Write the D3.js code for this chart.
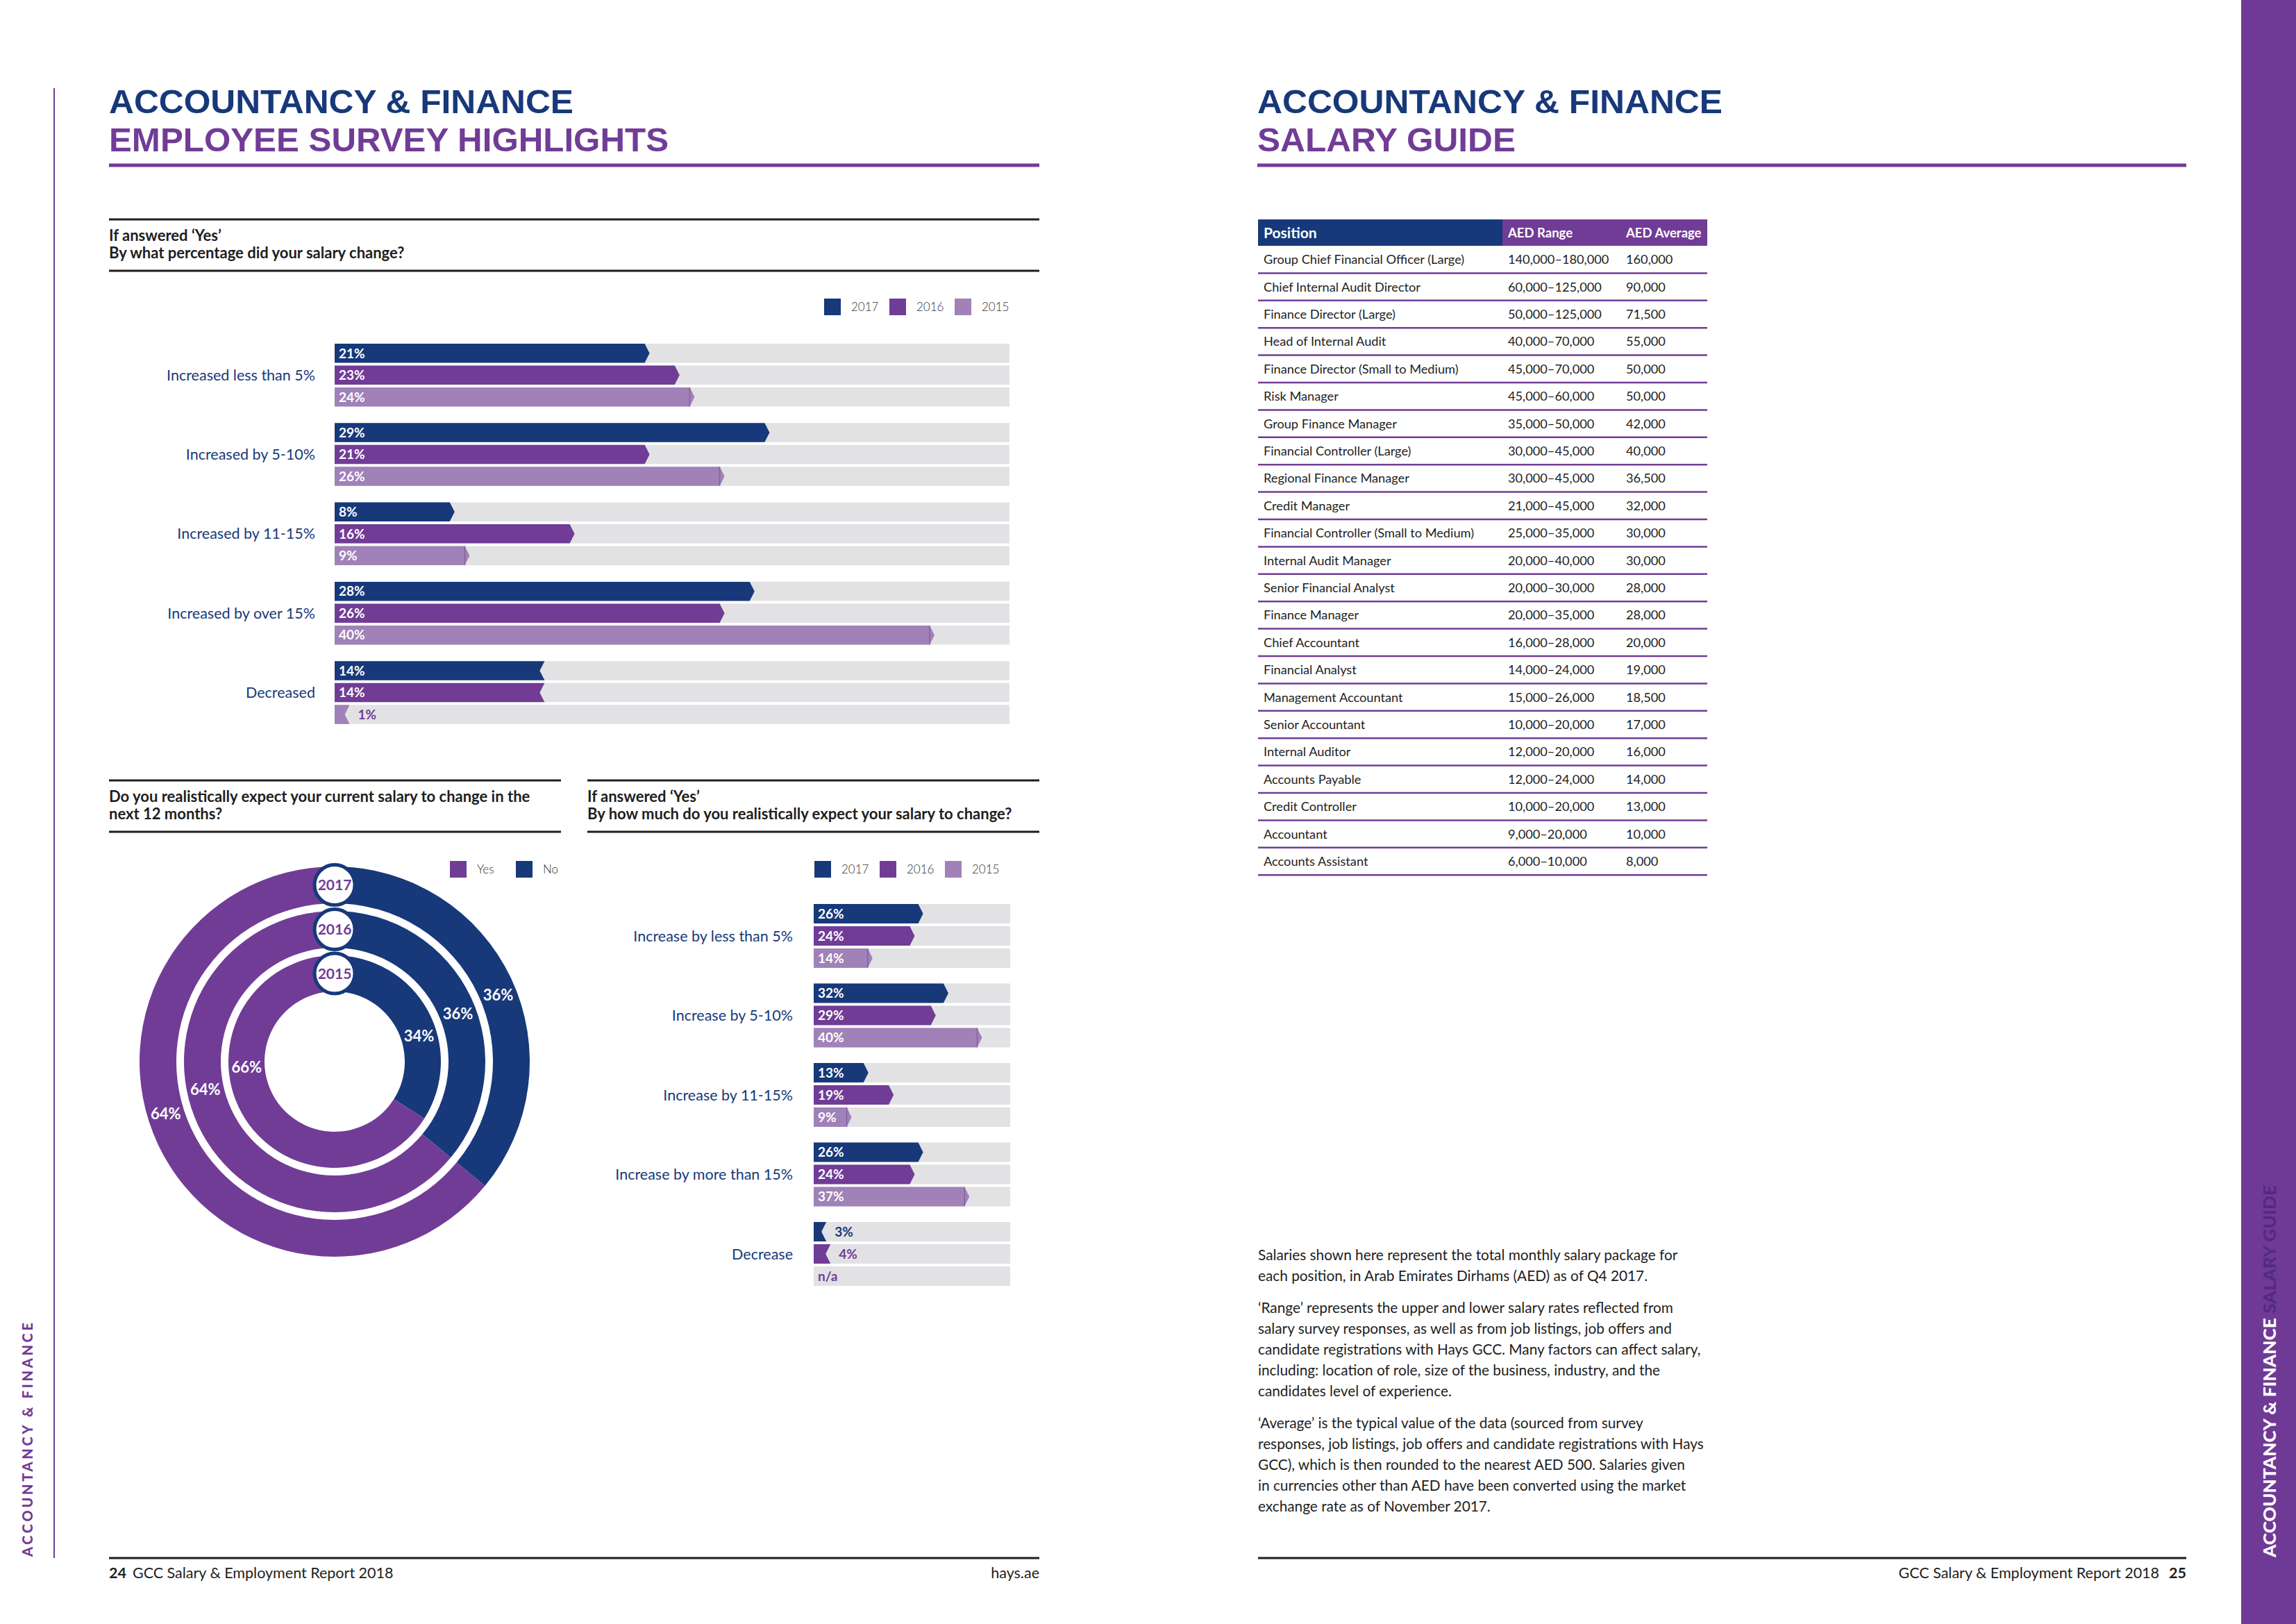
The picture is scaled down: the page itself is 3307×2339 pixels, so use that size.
<!DOCTYPE html>
<html>
<head>
<meta charset="utf-8">
<script src="https://cdn.jsdelivr.net/npm/d3@7"></script>
<style>
  body { margin: 0; background: #fff; }
  svg { display: block; font-family: Lato, 'Open Sans', sans-serif; }
</style>
</head>
<body>
<svg id="page" width="3307" height="2339"></svg>
<script>
// ---- data ----
const years = ['2017', '2016', '2015']

const changeCategories = ['Increased less than 5%', 'Increased by 5-10%', 'Increased by 11-15%', 'Increased by over 15%', 'Decreased']
const change2017 = [21, 29, 8, 28, 14]
const change2016 = [23, 21, 16, 26, 14]
const change2015 = [24, 26, 9, 40, 1]

const expectCategories = ['Increase by less than 5%', 'Increase by 5-10%', 'Increase by 11-15%', 'Increase by more than 15%', 'Decrease']
const expect2017 = [26, 32, 13, 26, 3]
const expect2016 = [24, 29, 19, 24, 4]
const expect2015 = [14, 40, 9, 37, null]

const ringYears = ['2017', '2016', '2015']
const ringYes = [64, 64, 66]
const ringNo = [36, 36, 34]

const positions = ['Group Chief Financial Officer (Large)', 'Chief Internal Audit Director', 'Finance Director (Large)', 'Head of Internal Audit', 'Finance Director (Small to Medium)', 'Risk Manager', 'Group Finance Manager', 'Financial Controller (Large)', 'Regional Finance Manager', 'Credit Manager', 'Financial Controller (Small to Medium)', 'Internal Audit Manager', 'Senior Financial Analyst', 'Finance Manager', 'Chief Accountant', 'Financial Analyst', 'Management Accountant', 'Senior Accountant', 'Internal Auditor', 'Accounts Payable', 'Credit Controller', 'Accountant', 'Accounts Assistant']
const aedRange = ['140,000–180,000', '60,000–125,000', '50,000–125,000', '40,000–70,000', '45,000–70,000', '45,000–60,000', '35,000–50,000', '30,000–45,000', '30,000–45,000', '21,000–45,000', '25,000–35,000', '20,000–40,000', '20,000–30,000', '20,000–35,000', '16,000–28,000', '14,000–24,000', '15,000–26,000', '10,000–20,000', '12,000–20,000', '12,000–24,000', '10,000–20,000', '9,000–20,000', '6,000–10,000']
const aedAverage = ['160,000', '90,000', '71,500', '55,000', '50,000', '50,000', '42,000', '40,000', '36,500', '32,000', '30,000', '30,000', '28,000', '28,000', '20,000', '19,000', '18,500', '17,000', '16,000', '14,000', '13,000', '10,000', '8,000']

// ---- style ----
const navy = '#17397a'
const purple = '#713c96'
const lilac = '#a081b8'
const trackGrey = '#e2e2e4'
const ink = '#1e1e1e'
const yearColors = { 2017: navy, 2016: purple, 2015: lilac }

const svg = d3.select('#page')
svg.append('rect').attr('width', 3307).attr('height', 2339).attr('fill', '#fff')

function rule (x1, x2, y, color, w) {
  svg.append('line').attr('x1', x1).attr('x2', x2).attr('y1', y).attr('y2', y)
    .attr('stroke', color).attr('stroke-width', w)
}

// two-line page heading
function heading (x, line1, w1, line2, w2) {
  const t = svg.append('text').attr('font-family', '"Liberation Sans", Arial, sans-serif')
    .attr('font-size', 48.5).attr('font-weight', 700)
  t.append('tspan').attr('x', x).attr('y', 163).attr('fill', navy)
    .attr('textLength', w1).attr('lengthAdjust', 'spacingAndGlyphs').text(line1)
  t.append('tspan').attr('x', x).attr('y', 218).attr('fill', purple)
    .attr('textLength', w2).attr('lengthAdjust', 'spacingAndGlyphs').text(line2)
}

function questionBlock (x, x2, top, lines) {
  rule(x, x2, top, ink, 3)
  const t = svg.append('text').attr('font-size', 22).attr('font-weight', 700).attr('fill', ink)
  lines.forEach((l, i) => {
    t.append('tspan').attr('x', x).attr('y', top + 31 + i * 25).text(l)
  })
  rule(x, x2, top + 74, ink, 3)
}

function legend (x, y, keys, colors, pitch) {
  const g = svg.append('g').attr('transform', `translate(${x},${y})`)
  const item = g.selectAll('g').data(keys).join('g').attr('transform', (d, i) => `translate(${i * pitch},0)`)
  item.append('rect').attr('width', 24).attr('height', 24).attr('fill', d => colors[d])
  item.append('text').attr('x', 39).attr('y', 12).attr('dy', '0.35em').attr('font-size', 17)
    .attr('font-weight', 300).attr('fill', '#333').text(d => d)
}

// ---- page frame ----
svg.append('line').attr('x1', 78).attr('x2', 78).attr('y1', 127).attr('y2', 2244)
  .attr('stroke', purple).attr('stroke-width', 2)
svg.append('text').attr('transform', 'translate(47,2242) rotate(-90)').attr('font-size', 20)
  .attr('font-weight', 900).attr('fill', purple).attr('textLength', 337).text('ACCOUNTANCY & FINANCE')

svg.append('rect').attr('x', 3228).attr('y', 0).attr('width', 79).attr('height', 2339).attr('fill', '#6f3a96')
const side = svg.append('text').attr('transform', 'translate(3278,2243) rotate(-90)').attr('font-size', 24)
  .attr('font-weight', 900).attr('textLength', 536).attr('lengthAdjust', 'spacingAndGlyphs')
side.append('tspan').attr('fill', '#fff').text('ACCOUNTANCY & FINANCE ')
side.append('tspan').attr('fill', '#55297f').text('SALARY GUIDE')

heading(157, 'ACCOUNTANCY & FINANCE', 669, 'EMPLOYEE SURVEY HIGHLIGHTS', 806)
rule(157, 1497, 238, purple, 5)
heading(1811, 'ACCOUNTANCY & FINANCE', 670, 'SALARY GUIDE', 372)
rule(1811, 3149, 238, purple, 5)

// footers
rule(157, 1497, 2244, ink, 3)
rule(1812, 3149, 2244, ink, 3)
const fl = svg.append('text').attr('x', 157).attr('y', 2273).attr('font-size', 21.5).attr('fill', ink)
fl.append('tspan').attr('font-weight', 700).text('24')
fl.append('tspan').attr('dx', 9).text('GCC Salary & Employment Report 2018')
svg.append('text').attr('x', 1497).attr('y', 2273).attr('font-size', 21.5).attr('fill', ink)
  .attr('text-anchor', 'end').text('hays.ae')
const fr = svg.append('text').attr('x', 3149).attr('y', 2273).attr('font-size', 21.5).attr('fill', ink)
  .attr('text-anchor', 'end')
fr.append('tspan').text('GCC Salary & Employment Report 2018')
fr.append('tspan').attr('dx', 14).attr('font-weight', 700).text('25')

// ---- bar charts ----
function barChart (opt) {
  const g = svg.append('g')
  const x = d3.scaleLinear().domain([0, opt.max]).range([opt.x0, opt.x1])
  const y = d3.scaleBand().domain(opt.categories).range([opt.top, opt.top + opt.categories.length * opt.pitch])
  const row = d3.scaleBand().domain(years).range([0, years.length * opt.rowPitch])
  const barH = opt.rowPitch - 4
  const last = opt.categories[opt.categories.length - 1]
  const rows = []
  opt.categories.forEach((c, i) => years.forEach((yr, j) => {
    rows.push({ cat: c, year: yr, v: opt.series[j][i], down: c === last })
  }))

  const r = g.selectAll('g.row').data(rows).join('g').attr('class', 'row')
    .attr('transform', d => `translate(0,${y(d.cat) + row(d.year)})`)
  r.append('rect').attr('x', opt.x0).attr('width', opt.x1 - opt.x0).attr('height', barH).attr('fill', trackGrey)
  const bars = r.filter(d => d.v != null)
  bars.append('path').attr('fill', d => yearColors[d.year]).attr('d', d => {
    const xe = x(d.v)
    const t = 7
    return d.down
      ? `M${opt.x0},0H${xe}L${xe - t},${barH / 2}L${xe},${barH}H${opt.x0}Z`
      : `M${opt.x0},0H${xe - t}L${xe},${barH / 2}L${xe - t},${barH}H${opt.x0}Z`
  })
  bars.filter(d => d.year === '2015' && !d.down).append('line')
    .attr('x1', d => x(d.v) - 7).attr('x2', d => x(d.v) - 7).attr('y1', 0).attr('y2', barH)
    .attr('stroke', '#86609f').attr('stroke-width', 1.5)

  r.append('text')
    .attr('x', d => d.v == null || d.v >= 5 ? opt.x0 + 6 : x(d.v) + 12)
    .attr('y', barH / 2).attr('dy', '0.36em').attr('font-size', 19).attr('font-weight', 700)
    .attr('fill', d => d.v != null && d.v >= 5 ? '#fff' : (d.year === '2017' ? navy : purple))
    .text(d => d.v == null ? 'n/a' : d.v + '%')

  g.selectAll('text.cat').data(opt.categories).join('text').attr('class', 'cat')
    .attr('x', opt.labelX).attr('y', d => y(d) + row('2016') + barH / 2).attr('dy', '0.35em')
    .attr('text-anchor', 'end').attr('font-size', 21.5).attr('fill', navy).text(d => d)
}

questionBlock(157, 1497, 316, ['If answered ‘Yes’', 'By what percentage did your salary change?'])
legend(1187, 430, years, yearColors, 94)
barChart({
  categories: changeCategories,
  series: [change2017, change2016, change2015],
  max: 45,
  x0: 482,
  x1: 1454,
  top: 495,
  pitch: 114.3,
  rowPitch: 31.5,
  labelX: 454
})

questionBlock(846, 1497, 1124, ['If answered ‘Yes’', 'By how much do you realistically expect your salary to change?'])
legend(1173, 1240, years, yearColors, 94)
barChart({
  categories: expectCategories,
  series: [expect2017, expect2016, expect2015],
  max: 46.7,
  x0: 1172,
  x1: 1455,
  top: 1302,
  pitch: 114.5,
  rowPitch: 32,
  labelX: 1142
})

// ---- donut ----
questionBlock(157, 808, 1124, ['Do you realistically expect your current salary to change in the', 'next 12 months?'])
legend(648, 1240, ['Yes', 'No'], { Yes: purple, No: navy }, 95)

const cx = 482
const cy = 1529
const ringRadii = [[228, 281], [164, 217], [101, 153]]
const labelShift = { No: [3, 4, 12], Yes: [8, 13, 25] }
const pie = d3.pie().sort(null).value(d => d.v)
const dg = svg.append('g').attr('transform', `translate(${cx},${cy})`)

ringYears.forEach((yr, i) => {
  const arcs = pie([{ k: 'No', v: ringNo[i] }, { k: 'Yes', v: ringYes[i] }])
  const arc = d3.arc().innerRadius(ringRadii[i][0]).outerRadius(ringRadii[i][1])
  const rm = (ringRadii[i][0] + ringRadii[i][1]) / 2
  dg.append('g').selectAll('path').data(arcs).join('path')
    .attr('d', arc).attr('fill', d => d.data.k === 'No' ? navy : purple)
  dg.append('g').selectAll('text').data(arcs).join('text')
    .attr('transform', d => {
      const a = (d.startAngle + d.endAngle) / 2 + labelShift[d.data.k][i] * Math.PI / 180
      return `translate(${Math.sin(a) * rm},${-Math.cos(a) * rm})`
    })
    .attr('text-anchor', 'middle').attr('dy', '0.35em').attr('font-size', 22).attr('font-weight', 700)
    .attr('fill', '#fff').text(d => d.data.v + '%')
})

ringYears.forEach((yr, i) => {
  const rm = (ringRadii[i][0] + ringRadii[i][1]) / 2
  dg.append('circle').attr('cx', 0).attr('cy', -rm).attr('r', 29)
    .attr('fill', '#fff').attr('stroke', navy).attr('stroke-width', 5)
  dg.append('text').attr('x', 0).attr('y', -rm).attr('dy', '0.36em').attr('text-anchor', 'middle')
    .attr('font-size', 21).attr('font-weight', 700).attr('fill', purple).text(yr)
})

// ---- salary table ----
const tx0 = 1812
const tx1 = 2459
const colRange = 2172
const colAvg = 2342
const headTop = 316
const headBottom = 354
svg.append('rect').attr('x', tx0).attr('y', headTop).attr('width', 2164 - tx0).attr('height', headBottom - headTop).attr('fill', navy)
svg.append('rect').attr('x', 2164).attr('y', headTop).attr('width', tx1 - 2164).attr('height', headBottom - headTop).attr('fill', purple)
const hy = (headTop + headBottom) / 2
svg.append('text').attr('x', 1820).attr('y', hy).attr('dy', '0.36em').attr('font-size', 21).attr('font-weight', 700).attr('fill', '#fff').text('Position')
svg.append('text').attr('x', colRange).attr('y', hy).attr('dy', '0.36em').attr('font-size', 18.5).attr('font-weight', 700).attr('fill', '#fff').text('AED Range')
svg.append('text').attr('x', colAvg).attr('y', hy).attr('dy', '0.36em').attr('font-size', 18.5).attr('font-weight', 700).attr('fill', '#fff').text('AED Average')

const rowY = d3.scaleBand().domain(positions).range([headBottom, headBottom + positions.length * 39.4])
const tr = svg.append('g').selectAll('g').data(positions).join('g')
  .attr('transform', d => `translate(0,${rowY(d)})`)
tr.append('line').attr('x1', tx0).attr('x2', tx1).attr('y1', rowY.bandwidth()).attr('y2', rowY.bandwidth())
  .attr('stroke', purple).attr('stroke-width', 2.5)
const cell = (sel, x, f) => sel.append('text').attr('x', x).attr('y', rowY.bandwidth() / 2).attr('dy', '0.36em')
  .attr('font-size', 18.2).attr('fill', ink).text(f)
cell(tr, 1820, d => d)
cell(tr, colRange, (d, i) => aedRange[i])
cell(tr, colAvg, (d, i) => aedAverage[i])

// ---- notes ----
const notes = [
  ['Salaries shown here represent the total monthly salary package for',
    'each position, in Arab Emirates Dirhams (AED) as of Q4 2017.'],
  ['‘Range’ represents the upper and lower salary rates reflected from',
    'salary survey responses, as well as from job listings, job offers and',
    'candidate registrations with Hays GCC. Many factors can affect salary,',
    'including: location of role, size of the business, industry, and the',
    'candidates level of experience.'],
  ['‘Average’ is the typical value of the data (sourced from survey',
    'responses, job listings, job offers and candidate registrations with Hays',
    'GCC), which is then rounded to the nearest AED 500. Salaries given',
    'in currencies other than AED have been converted using the market',
    'exchange rate as of November 2017.']
]
let ny = 1815
notes.forEach(p => {
  const t = svg.append('text').attr('font-size', 20.8).attr('fill', ink)
  p.forEach(l => {
    t.append('tspan').attr('x', 1812).attr('y', ny).text(l)
    ny += 30
  })
  ny += 16
})
</script>
</body>
</html>
